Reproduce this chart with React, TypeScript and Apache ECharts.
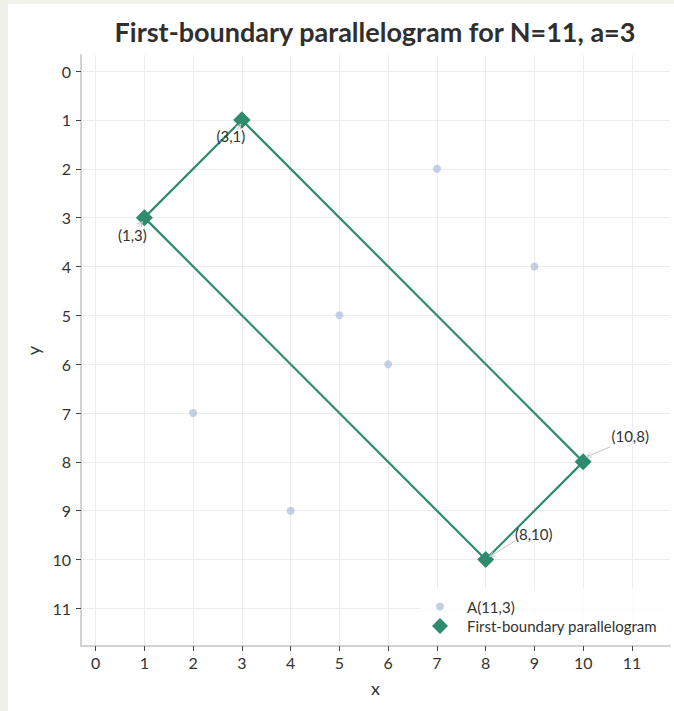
import React, { useEffect, useRef } from "react";
import * as echarts from "echarts";

const TITLE = "First-boundary parallelogram for N=11, a=3";
const TICKS = [0, 1, 2, 3, 4, 5, 6, 7, 8, 9, 10, 11];
const A_NAME = "A(11,3)";
const A_X = [1, 2, 3, 4, 5, 6, 7, 8, 9, 10];
const A_Y = [3, 7, 1, 9, 5, 6, 2, 10, 4, 8];
const PARA_NAME = "First-boundary parallelogram";
const PARA_X = [3, 10, 8, 1, 3];
const PARA_Y = [1, 8, 10, 3, 1];
const VERTEX_X = [3, 10, 8, 1];
const VERTEX_Y = [1, 8, 10, 3];
const VERTEX_LABELS = ["(3,1)", "(10,8)", "(8,10)", "(1,3)"];

// annotation placement (pixel offsets from the vertex)
const ANN_OFFSETS = [
  { tx: -11, ty: 16, sx: -5, sy: 10, ex: -1, ey: 4 },
  { tx: 47, ty: -26, sx: 27, sy: -15, ex: 3, ey: -5 },
  { tx: 48, ty: -26, sx: 30, sy: -19, ex: 4, ey: -3 },
  { tx: -12, ty: 17, sx: -6, sy: 9, ex: -2, ey: 4 },
];

const GREEN = "#2e8b6e";
const BLUE = "#b4c4dc";
const TEXT = "#333333";
const FONT = "Lato, 'Noto Sans', sans-serif";

export default function App() {
  const ref = useRef<HTMLDivElement>(null);

  useEffect(() => {
    if (!ref.current) return;
    const chart = echarts.init(ref.current, undefined, { renderer: "svg" });

    const axisCommon = {
      type: "value" as const,
      axisLine: { show: true, onZero: false, lineStyle: { color: "#d2d2d2", width: 2 } },
      axisTick: {
        show: true,
        customValues: TICKS,
        length: 5,
        lineStyle: { color: "#444", width: 1 },
      },
      axisLabel: {
        customValues: TICKS,
        fontSize: 16,
        color: TEXT,
        fontFamily: FONT,
      },
      splitLine: { show: true, lineStyle: { color: "#ececec", width: 1 } },
      nameLocation: "middle" as const,
      nameTextStyle: { fontSize: 18, color: TEXT, fontFamily: FONT },
    };

    const option: any = {
      animation: false,
      backgroundColor: "#ffffff",
      textStyle: { fontFamily: FONT },
      title: {
        text: TITLE,
        left: 367,
        textAlign: "center",
        top: 14,
        padding: 0,
        textStyle: { fontSize: 27, fontWeight: "bold", color: "#2f2f2f", fontFamily: FONT },
      },
      grid: { left: 73, right: 4, top: 51, bottom: 65, containLabel: false },
      xAxis: {
        ...axisCommon,
        min: -0.3,
        max: 11.78,
        name: "x",
        nameGap: 33,
        axisLabel: { ...axisCommon.axisLabel, margin: 8 },
      },
      yAxis: {
        ...axisCommon,
        inverse: true,
        min: -0.33,
        max: 11.77,
        name: "y",
        nameGap: 39,
        axisLabel: { ...axisCommon.axisLabel, margin: 10 },
      },
      legend: [
        {
          data: [A_NAME],
          orient: "vertical",
          left: 428,
          top: 595,
          padding: 0,
          itemWidth: 8,
          itemHeight: 8,
          icon: "circle",
          textStyle: { fontSize: 15, color: TEXT, fontFamily: FONT, padding: [0, 0, 0, 18] },
        },
        {
          data: [PARA_NAME],
          orient: "vertical",
          left: 424,
          top: 614,
          padding: 0,
          itemWidth: 16,
          itemHeight: 16,
          icon: "diamond",
          textStyle: { fontSize: 15, color: TEXT, fontFamily: FONT, padding: [0, 0, 0, 14] },
        },
      ],
      series: [
        {
          name: A_NAME,
          type: "scatter",
          symbol: "circle",
          symbolSize: 8,
          itemStyle: { color: BLUE },
          data: A_X.map((x, i) => [x, A_Y[i]]),
          z: 2,
        },
        {
          name: PARA_NAME,
          type: "line",
          symbol: "diamond",
          symbolSize: 17,
          showAllSymbol: true,
          lineStyle: { color: GREEN, width: 2.2 },
          itemStyle: { color: GREEN },
          data: PARA_X.map((x, i) => [x, PARA_Y[i]]),
          z: 3,
        },
      ],
    };

    chart.setOption(option);

    const graphics: any[] = [
      {
        type: "rect",
        shape: { x: 412, y: 584, width: 254, height: 54 },
        style: { fill: "rgba(255,255,255,0.85)" },
        z: 1,
      },
    ];
    VERTEX_X.forEach((vx, i) => {
      const p = chart.convertToPixel({ gridIndex: 0 }, [vx, VERTEX_Y[i]]) as number[];
      const o = ANN_OFFSETS[i];
      const sx = p[0] + o.sx, sy = p[1] + o.sy;
      const ex = p[0] + o.ex, ey = p[1] + o.ey;
      const ang = Math.atan2(ey - sy, ex - sx);
      const hl = 6, hw = 0.45;
      graphics.push({
        type: "line",
        shape: { x1: sx, y1: sy, x2: ex, y2: ey },
        style: { stroke: "#c4c4c4", lineWidth: 1 },
        z: 10,
      });
      graphics.push({
        type: "polyline",
        shape: {
          points: [
            [ex - hl * Math.cos(ang - hw), ey - hl * Math.sin(ang - hw)],
            [ex, ey],
            [ex - hl * Math.cos(ang + hw), ey - hl * Math.sin(ang + hw)],
          ],
        },
        style: { stroke: "#c4c4c4", lineWidth: 1, fill: null },
        z: 10,
      });
      graphics.push({
        type: "text",
        x: p[0] + o.tx,
        y: p[1] + o.ty,
        style: {
          text: VERTEX_LABELS[i],
          fontSize: 15,
          fill: TEXT,
          fontFamily: FONT,
          align: "center",
          verticalAlign: "middle",
        },
        z: 11,
      });
    });
    chart.setOption({ graphic: graphics });

    return () => chart.dispose();
  }, []);

  return (
    <div style={{ position: "fixed", left: 0, top: 0, right: 0, bottom: 0, background: "#f1f1ec" }}>
      <div
        ref={ref}
        style={{ position: "absolute", left: 8, top: 4, width: 666, height: 707, background: "#ffffff" }}
      />
    </div>
  );
}
